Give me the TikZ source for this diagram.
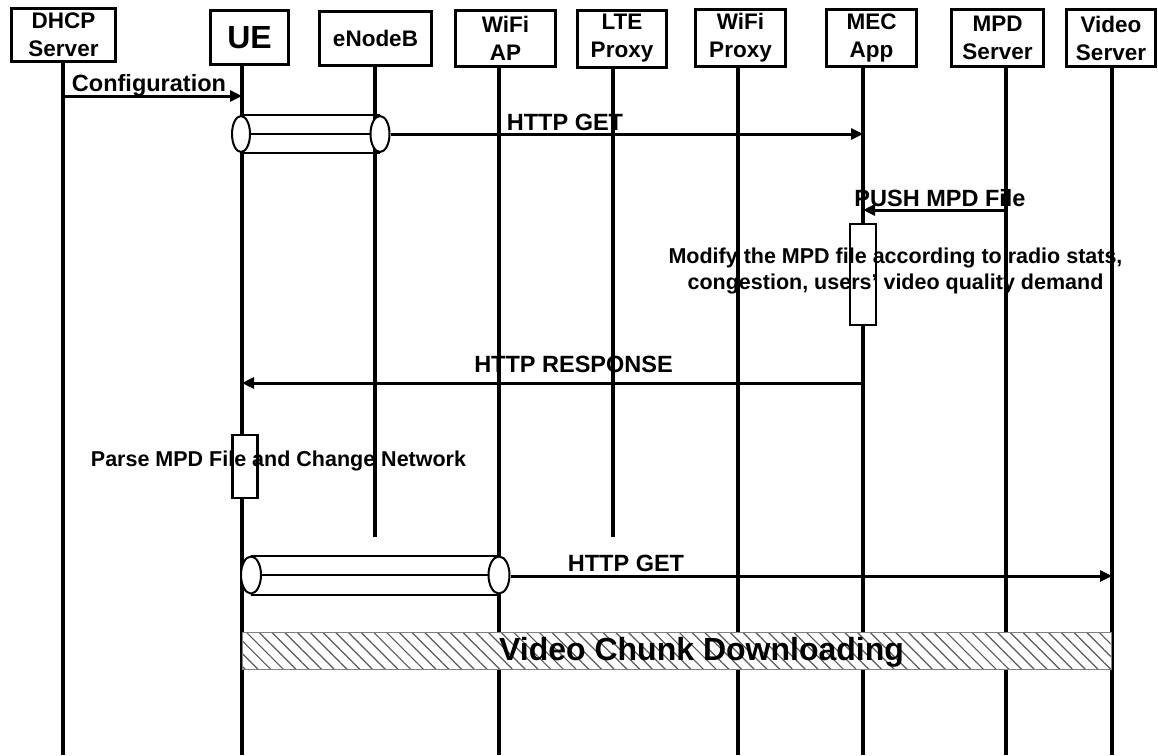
\documentclass[tikz,border=0pt]{standalone}
\usepackage{fontspec}
\setmainfont{Liberation Sans}
\usetikzlibrary{arrows.meta,patterns.meta,shapes.geometric}
\begin{document}
\begin{tikzpicture}[x=1pt,y=-1pt,
  hdr/.style={draw, line width=3pt, fill=white, align=center, inner sep=0pt,
    font=\bfseries\fontsize{22.5}{28}\selectfont},
  life/.style={line width=4pt},
  msg/.style={line width=3pt, -{Triangle[length=12pt,width=11pt]}},
  tube/.style={line width=2pt},
  tubeend/.style={ellipse, draw, fill=white, line width=2pt, inner sep=0pt},
  actbox/.style={draw, fill=white, line width=2.5pt, inner sep=0pt},
  lbl/.style={font=\bfseries\fontsize{23.5}{28}\selectfont, inner sep=0pt, anchor=base},
  note/.style={font=\bfseries\fontsize{21.5}{26}\selectfont, inner sep=0pt, anchor=base},
  hatchbox/.style={draw=gray, line width=1pt, preaction={fill=white},
    pattern={Lines[angle=-45,distance=9pt,line width=1.2pt]}, pattern color=gray!70!black, inner sep=0pt}
]
\useasboundingbox (0,0) rectangle (1158,755);

% lifeline ends
\coordinate (dhcpB) at (63,755);
\coordinate (ueB) at (242,755);
\coordinate (enbB) at (375,537);
\coordinate (apB) at (499,755);
\coordinate (lteB) at (613,537);
\coordinate (wpB) at (738,755);
\coordinate (mecB) at (863,755);
\coordinate (mpdB) at (1006,755);
\coordinate (vidB) at (1112,755);

% header boxes
\node[hdr, minimum width=104pt, minimum height=53pt] (dhcp) at (63.5,35) {DHCP\\Server};
\node[hdr, minimum width=78pt, minimum height=54pt, font=\bfseries\fontsize{32}{36}\selectfont] (ue) at (249.5,37.5) {UE};
\node[hdr, minimum width=112pt, minimum height=54pt] (enb) at (375.5,38) {eNodeB};
\node[hdr, minimum width=100pt, minimum height=56pt] (ap) at (505.5,38) {WiFi\\AP};
\node[hdr, minimum width=89pt, minimum height=57pt] (lte) at (622,38.5) {LTE\\Proxy};
\node[hdr, minimum width=90pt, minimum height=57pt] (wp) at (740.5,38) {WiFi\\Proxy};
\node[hdr, minimum width=90pt, minimum height=57pt] (mec) at (871.5,37.5) {MEC\\App};
\node[hdr, minimum width=92pt, minimum height=57pt] (mpd) at (997.5,38) {MPD\\Server};
\node[hdr, minimum width=89pt, minimum height=57pt] (vid) at (1111,38) {Video\\Server};

% lifelines
\draw[life] (dhcpB |- dhcp.south) -- (dhcpB);
\draw[life] (ueB |- ue.south) -- (ueB);
\draw[life] (enbB |- enb.south) -- (enbB);
\draw[life] (apB |- ap.south) -- (apB);
\draw[life] (lteB |- lte.south) -- (lteB);
\draw[life] (wpB |- wp.south) -- (wpB);
\draw[life] (mecB |- mec.south) -- (mecB);
\draw[life] (mpdB |- mpd.south) -- (mpdB);
\draw[life] (vidB |- vid.south) -- (vidB);

% Configuration
\coordinate (cfgA) at (63,96);
\coordinate (cfgB) at (242,96);
\draw[msg] (cfgA) -- (cfgB);
\node[lbl] (cfgL) at (149,91) {Configuration};

% tunnel 1 (UE - eNodeB)
\node[tubeend, minimum width=18pt, minimum height=36pt] (t1a) at (241,134) {};
\node[tubeend, minimum width=19pt, minimum height=36pt] (t1b) at (380,134) {};
\draw[tube] (t1a.north) -- (t1b.north);
\draw[tube] (t1a.south) -- (t1b.south);
\draw[tube] (t1a.east) -- (t1b.west);

% HTTP GET 1
\coordinate (get1B) at (863,134);
\draw[msg] (t1b.east) -- (get1B);
\node[lbl] (get1L) at (565,130) {HTTP GET};

% PUSH MPD File
\coordinate (pushA) at (1006,210);
\coordinate (pushB) at (863,210);
\draw[msg] (pushA) -- (pushB);
\node[lbl] (pushL) at (940,206) {PUSH MPD File};

% MEC activation
\node[actbox, minimum width=26pt, minimum height=101pt] (mecAct) at (863,274.5) {};
\node[note] (mod1) at (895.5,263) {Modify the MPD file according to radio stats,};
\node[note] (mod2) at (895.5,289) {congestion, users' video quality demand};

% HTTP RESPONSE
\coordinate (respA) at (863,383);
\coordinate (respB) at (242,383);
\draw[msg] (respA) -- (respB);
\node[lbl] (respL) at (573.5,372) {HTTP RESPONSE};

% UE activation
\node[actbox, minimum width=25pt, minimum height=63pt] (ueAct) at (245,466.5) {};
\node[note] (parse) at (278.5,466) {Parse MPD File and Change Network};

% tunnel 2 (UE - WiFi AP)
\node[tubeend, minimum width=20pt, minimum height=37pt] (t2a) at (251,575) {};
\node[tubeend, minimum width=21pt, minimum height=37pt] (t2b) at (499,575) {};
\draw[tube] (t2a.north) -- (t2b.north);
\draw[tube] (t2a.south) -- (t2b.south);
\draw[tube] (t2a.east) -- (t2b.west);

% HTTP GET 2
\coordinate (get2B) at (1112,576);
\draw[msg] (t2b.east |- get2B) -- (get2B);
\node[lbl] (get2L) at (626,571) {HTTP GET};

% Video chunk downloading
\node[hatchbox, minimum width=869pt, minimum height=37pt] (vcd) at (676.5,651) {};
\node[font=\bfseries\fontsize{32}{36}\selectfont, inner sep=0pt, anchor=base] (vcdL) at (701.5,660) {Video Chunk Downloading};

\end{tikzpicture}
\end{document}
